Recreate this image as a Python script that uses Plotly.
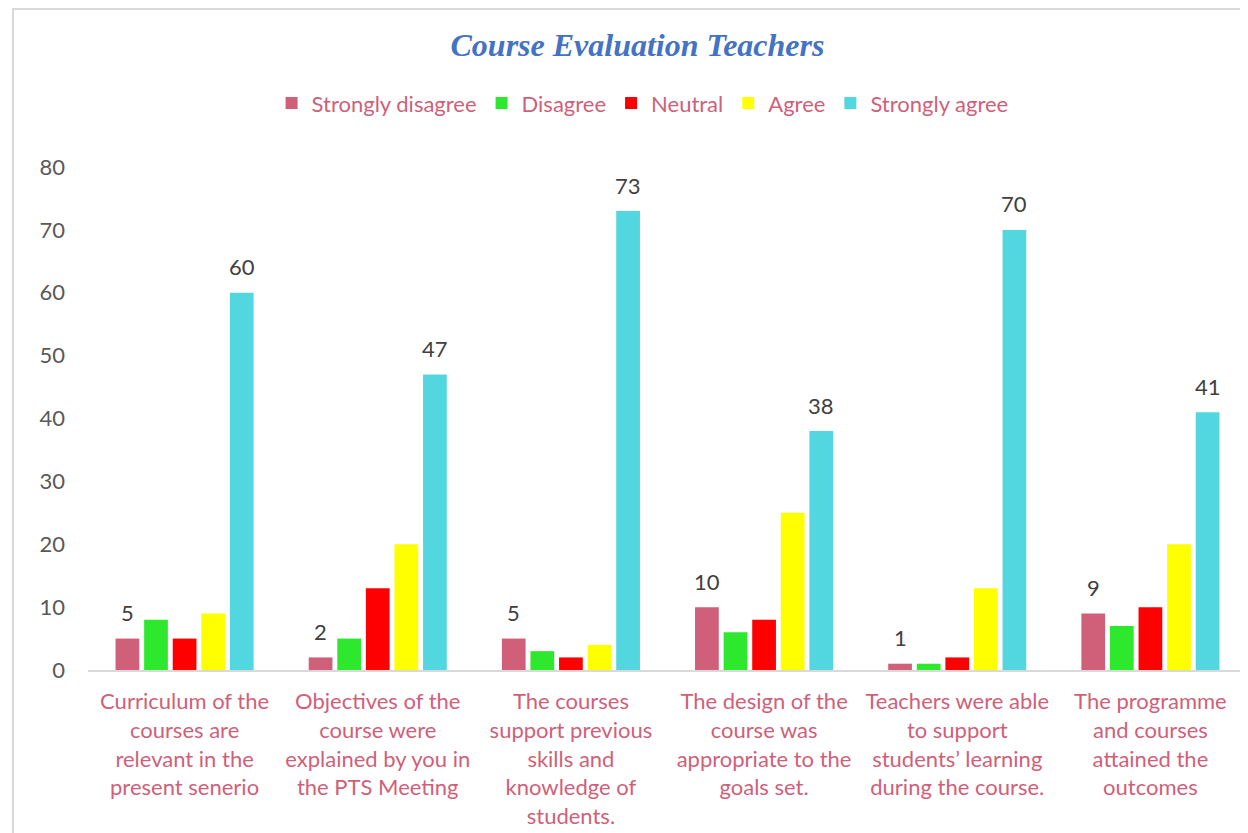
import plotly.graph_objects as go

# categories and series
questions = [
    "Curriculum of the<br>courses are<br>relevant in the<br>present senerio",
    "Objectives of the<br>course were<br>explained by you in<br>the PTS Meeting",
    "The courses<br>support previous<br>skills and<br>knowledge of<br>students.",
    "The design of the<br>course was<br>appropriate to the<br>goals set.",
    "Teachers were able<br>to support<br>students’ learning<br>during the course.",
    "The programme<br>and courses<br>attained the<br>outcomes",
]
strongly_disagree = [5, 2, 5, 10, 1, 9]
disagree = [8, 5, 3, 6, 1, 7]
neutral = [5, 13, 2, 8, 2, 10]
agree = [9, 20, 4, 25, 13, 20]
strongly_agree = [60, 47, 73, 38, 70, 41]

series = [
    ("Strongly disagree", strongly_disagree, "#D05F7A", True),
    ("Disagree", disagree, "#2EE82E", False),
    ("Neutral", neutral, "#FF0000", False),
    ("Agree", agree, "#FFFF00", False),
    ("Strongly agree", strongly_agree, "#52D6DF", True),
]

pink = "#D05F7A"
fnt = "Lato, Carlito, Calibri, sans-serif"

W, H = 1248, 833
ml, mr, mt, mb = 80, 9, 159, 171
bargap = 0.26
slot = (W - ml - mr) / len(questions) * (1 - bargap) / len(series)

fig = go.Figure()
for i, (name, vals, color, labelled) in enumerate(series):
    fig.add_trace(go.Bar(
        name=name, x=questions, y=vals,
        marker=dict(color=color, line=dict(width=0)),
        hoverinfo="x+y+name",
    ))
    if labelled:
        # value labels sit well above the bars, as in the original
        for q, v in zip(questions, vals):
            fig.add_annotation(
                x=q, y=v, text=str(v), showarrow=False,
                xshift=(i - (len(series) - 1) / 2) * slot, yshift=26,
                yanchor="middle", font=dict(size=22, color="#404040", family=fnt),
            )

fig.update_layout(
    width=W, height=H,
    margin=dict(l=ml, r=mr, t=mt, b=mb),
    paper_bgcolor="white", plot_bgcolor="white",
    barmode="group", bargap=bargap, bargroupgap=0.17,
    font=dict(family=fnt, size=22, color=pink),
    title=dict(
        text="<b><i>Course Evaluation Teachers</i></b>",
        x=0.5044, xanchor="center", y=0.9556, yanchor="middle",
        font=dict(family="Liberation Serif, Times New Roman, serif", size=32, color="#4472C4"),
    ),
    legend=dict(
        orientation="h", x=0.4785, xanchor="center", y=1.127, yanchor="middle",
        font=dict(size=22, color=pink), itemwidth=30, traceorder="normal",
    ),
    xaxis=dict(
        showgrid=False, showline=True, linecolor="#D9D9D9", linewidth=2,
        ticks="", tickfont=dict(size=22, color=pink), ticklabelstandoff=11,
    ),
    yaxis=dict(
        range=[0, 80], dtick=10, showgrid=False, zeroline=False, showline=False,
        ticks="", tickfont=dict(size=22, color="#595959"), ticklabelstandoff=22,
    ),
    showlegend=True,
)

# light chart border like the original
fig.add_shape(type="rect", xref="paper", yref="paper",
              x0=-0.0647, x1=1.2, y0=-1.0, y1=1.314,
              line=dict(color="#D9D9D9", width=2), fillcolor="rgba(0,0,0,0)", layer="below")

fig.write_html("out.html")
